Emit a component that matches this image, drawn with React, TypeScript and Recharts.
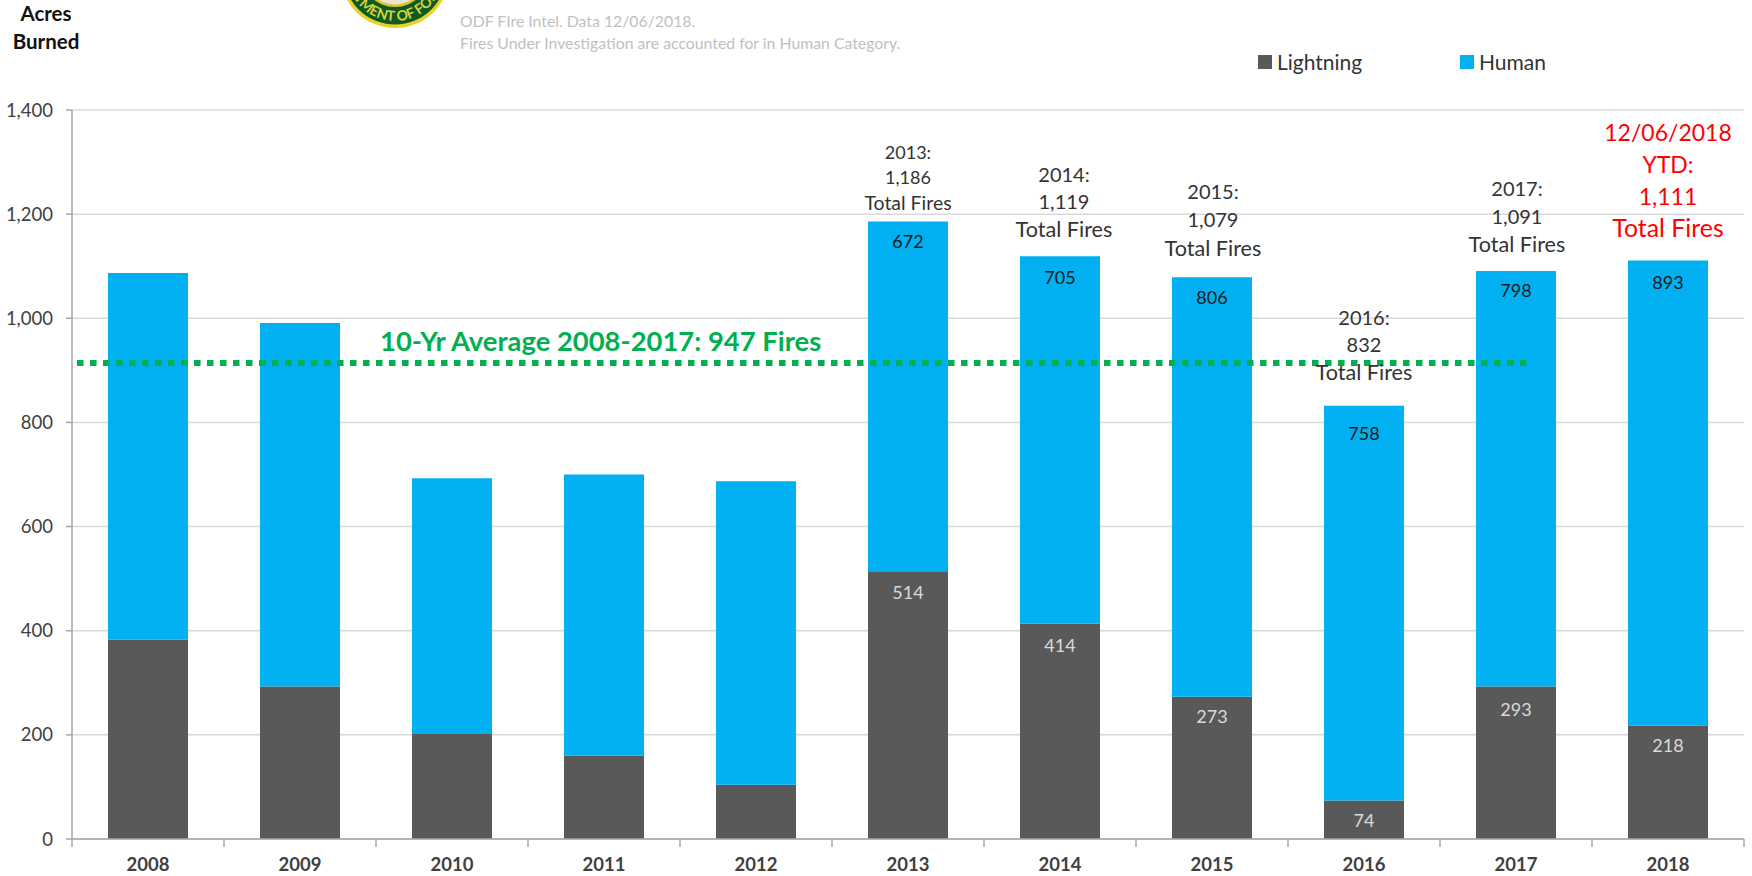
import React from "react";
import {
  ComposedChart, Bar, XAxis, YAxis, CartesianGrid, LabelList, ReferenceLine, Legend,
} from "recharts";

const years = ["2008","2009","2010","2011","2012","2013","2014","2015","2016","2017","2018"];
const lightning = [383,293,203,160,104,514,414,273,74,293,218];
const human = [704,698,490,540,583,672,705,806,758,798,893];
const lightningLabels = [null,null,null,null,null,514,414,273,74,293,218];
const humanLabels = [null,null,null,null,null,672,705,806,758,798,893];
const totalLines: (string[] | null)[] = [
  null,null,null,null,null,
  ["2013:","1,186","Total Fires"],
  ["2014:","1,119","Total Fires"],
  ["2015:","1,079","Total Fires"],
  ["2016:","832","Total Fires"],
  ["2017:","1,091","Total Fires"],
  ["12/06/2018","YTD:","1,111","Total Fires"],
];
const yTicks = [0,200,400,600,800,1000,1200,1400];
const boundaryTicks = [0,1,2,3,4,5,6,7,8,9,10,11];
const slotPositions = [0.5,1.5,2.5,3.5,4.5,5.5,6.5,7.5,8.5,9.5,10.5];
const averageValue = 914;
const averageSpan = [0.033, 9.57];

// label placement per year index
const totalStyle: Record<number, { gap: number; lh: number; fs: number; dx: number; color: string }> = {
  5: { gap: 18, lh: 25.5, fs: 18, dx: 0, color: "#333" },
  6: { gap: 27, lh: 27, fs: 20, dx: 4, color: "#333" },
  7: { gap: 29, lh: 28, fs: 20, dx: 1, color: "#333" },
  8: { gap: 33, lh: 27.5, fs: 20, dx: 0, color: "#333" },
  9: { gap: 26, lh: 28, fs: 20, dx: 1, color: "#333" },
  10: { gap: 32, lh: 31.7, fs: 23, dx: 0, color: "#FF0000" },
};
const humanGap: Record<number, number> = { 5: 20, 6: 21, 7: 21, 8: 28, 9: 20, 10: 22 };
const lightningGap: Record<number, number> = { 5: 21, 6: 22, 7: 20, 8: 20, 9: 23, 10: 20 };

const data = years.map((year, i) => ({
  year,
  slot: slotPositions[i],
  Lightning: lightning[i],
  Human: human[i],
  lightningLabel: lightningLabels[i],
  humanLabel: humanLabels[i],
}));

const FONT = "Lato, sans-serif";

const TotalLabel = (props: any) => {
  const { x, y, width, index } = props;
  const lines = totalLines[index];
  const st = totalStyle[index];
  if (!lines || !st) return null;
  const cx = Number(x) + Number(width) / 2 + st.dx;
  const last = Number(y) - st.gap;
  return (
    <g>
      {lines.map((t, i) => (
        <text key={i} x={cx} y={last - (lines.length - 1 - i) * st.lh} dy=".35em" textAnchor="middle"
          fontFamily={FONT} fontSize={i === lines.length - 1 ? st.fs * 1.08 : st.fs} fill={st.color}>{t}</text>
      ))}
    </g>
  );
};

const valueLabel = (gaps: Record<number, number>, fill: string) => (props: any) => {
  const { x, y, width, index, value } = props;
  if (value === null || value === undefined) return null;
  return (
    <text x={Number(x) + Number(width) / 2} y={Number(y) + gaps[index]} dy=".35em" textAnchor="middle"
      fontFamily={FONT} fontSize={18} fill={fill}>{value}</text>
  );
};

const LegendContent = (props: any) => {
  const spots: Record<string, number> = { Lightning: 1258, Human: 1460 };
  return (
    <div style={{ position: "relative", height: 0, width: 0 }}>
      {(props.payload || []).map((p: any) => (
        <div key={p.value} style={{ position: "absolute", left: spots[p.value], top: 0, height: 0 }}>
          <div style={{ position: "absolute", left: 0, top: 55, width: 14, height: 14, background: p.color }} />
          <div style={{ position: "absolute", left: 19, top: 48, lineHeight: "28px", fontSize: 21, whiteSpace: "nowrap", fontFamily: FONT, color: "#333" }}>{p.value}</div>
        </div>
      ))}
    </div>
  );
};

const Logo = () => (
  <svg width={140} height={40} viewBox="0 0 140 40" style={{ position: "absolute", left: 325, top: 0 }}>
    <defs>
      <path id="sealArc" d="M 22 -27 A 48 48 0 0 0 118 -27" fill="none" />
    </defs>
    <circle cx={70} cy={-27} r={55} fill="#E8D22A" />
    <circle cx={70} cy={-27} r={51.5} fill="#0F5A22" />
    <circle cx={70} cy={-27} r={34} fill="#D9C92E" />
    <circle cx={70} cy={-27} r={31.5} fill="#E9E6D4" />
    <text fontFamily={FONT} fontWeight={700} fontSize={14} fill="#D9D23A">
      <textPath href="#sealArc" startOffset="50%" textAnchor="middle">DEPARTMENT OF FORESTRY</textPath>
    </text>
  </svg>
);

const abs = (style: React.CSSProperties): React.CSSProperties => ({
  position: "absolute", fontFamily: FONT, whiteSpace: "nowrap", ...style,
});

export default function App() {
  return (
    <div style={{ position: "absolute", left: 0, top: 0, width: 1752, height: 876, background: "#fff", overflow: "hidden" }}>
      <ComposedChart width={1752} height={876} data={data} barSize={80}
        margin={{ top: 110, right: 8, bottom: 0, left: 0 }} style={{ position: "absolute", left: 0, top: 0 }}>
        <CartesianGrid horizontal vertical={false} stroke="#D9D9D9" strokeWidth={1.5} />
        <XAxis dataKey="slot" type="number" domain={[0, 11]} ticks={boundaryTicks} height={1}
          tick={() => <g />} tickSize={8} stroke="#A6A6A6" strokeWidth={1.5} interval={0} allowDataOverflow />
        <XAxis xAxisId="cat" dataKey="year" height={36} axisLine={false} tickLine={false} interval={0}
          tick={{ fontFamily: FONT, fontSize: 18.5, fontWeight: 700, fill: "#404040", dy: 10 }} />
        <YAxis width={72} domain={[0, 1400]} ticks={yTicks} interval={0} tickSize={6} tickMargin={13}
          stroke="#A6A6A6" strokeWidth={1.5} allowDataOverflow
          tickFormatter={(v: number) => v.toLocaleString("en-US")}
          tick={{ fontFamily: FONT, fontSize: 18.5, fill: "#404040" }} />
        <Legend content={<LegendContent />} verticalAlign="bottom"
          wrapperStyle={{ left: 0, top: 0, bottom: "auto", width: 0, height: 0 }} />
        <Bar xAxisId="cat" dataKey="Lightning" stackId="a" fill="#595959" isAnimationActive={false}>
          <LabelList dataKey="lightningLabel" content={valueLabel(lightningGap, "#D9D9D9")} />
        </Bar>
        <Bar xAxisId="cat" dataKey="Human" stackId="a" fill="#00B0F0" isAnimationActive={false}>
          <LabelList dataKey="humanLabel" content={valueLabel(humanGap, "#1A1A1A")} />
          <LabelList dataKey="Human" content={<TotalLabel />} />
        </Bar>
        <ReferenceLine segment={[{ x: averageSpan[0], y: averageValue }, { x: averageSpan[1], y: averageValue }]}
          stroke="#00B050" strokeWidth={6} strokeDasharray="6.5 6.5" ifOverflow="visible" />
      </ComposedChart>
      <Logo />
      <div style={abs({ left: 0, width: 92, textAlign: "center", top: -1, lineHeight: "28px", fontSize: 20.5, fontWeight: 700, color: "#111" })}>Acres</div>
      <div style={abs({ left: 0, width: 92, textAlign: "center", top: 27, lineHeight: "28px", fontSize: 20.5, fontWeight: 700, color: "#111" })}>Burned</div>
      <div style={abs({ left: 460, top: 11, lineHeight: "20px", fontSize: 15.8, color: "#BFBFBF" })}>ODF FIre Intel. Data 12/06/2018.</div>
      <div style={abs({ left: 460, top: 33, lineHeight: "20px", fontSize: 15.8, color: "#BFBFBF" })}>Fires Under Investigation are accounted for in Human Category.</div>
      <div style={abs({ left: 380, top: 323, lineHeight: "36px", fontSize: 27.4, fontWeight: 700, color: "#00B050" })}>10-Yr Average 2008-2017: 947 Fires</div>
    </div>
  );
}
